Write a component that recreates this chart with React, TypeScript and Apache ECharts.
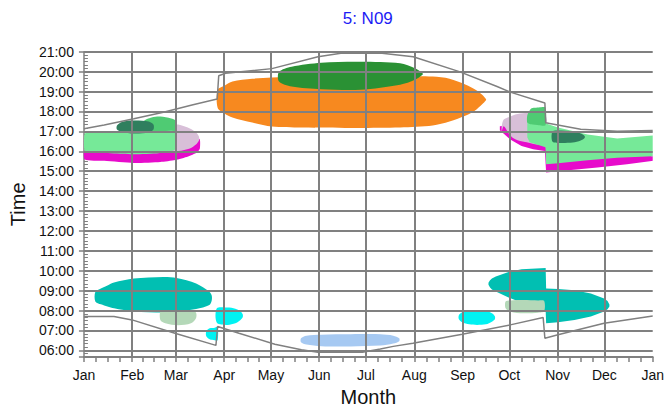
import React, { useEffect, useRef } from 'react';
import * as echarts from 'echarts';

// ---------- axes ----------
const monthLabels = ['Jan', 'Feb', 'Mar', 'Apr', 'May', 'Jun', 'Jul', 'Aug', 'Sep', 'Oct', 'Nov', 'Dec', 'Jan'];
const monthStarts = [0, 31, 59, 90, 120, 151, 181, 212, 243, 273, 304, 334, 365];
const hourTicks = [6, 7, 8, 9, 10, 11, 12, 13, 14, 15, 16, 17, 18, 19, 20, 21];
const titleText = '5: N09';

// ---------- sunset / sunrise lines (day of year, hour) ----------
const sunsetDays = [0, 13, 32, 51, 70, 85.5, 86.5, 90.9, 120.6, 150.2, 164.9, 191.3, 211.3, 240.9, 265.1, 273.6, 295.8, 296.3, 318.8, 342.2, 365];
const sunsetHours = [17.13, 17.32, 17.63, 17.96, 18.34, 18.62, 19.79, 19.92, 20.15, 20.75, 20.92, 20.92, 20.75, 20.0, 19.25, 18.97, 18.42, 17.43, 17.1, 17.0, 17.04];
const sunriseDays = [0, 19.3, 30.9, 58.4, 84.7, 85.8, 99.5, 122.5, 139.6, 150.2, 178.7, 190.2, 198.5, 211.1, 242.8, 273.6, 294.7, 295.8, 304.2, 333.8, 362.9, 365];
const sunriseHours = [7.7, 7.7, 7.53, 6.86, 6.25, 7.2, 6.86, 6.31, 6.03, 5.9, 5.9, 6.07, 6.2, 6.36, 6.81, 7.28, 7.65, 6.61, 6.78, 7.36, 7.7, 7.72];

// ---------- glare areas: day, upper hour, lower hour ----------
// summer evening
const orangeDays = [85.8, 90.2, 95.3, 108, 120.6, 139.6, 171.3, 202.9, 223.8, 234.6, 245.1, 251, 255.4, 258];
const orangeTop = [19.09, 19.29, 19.5, 19.64, 19.7, 19.74, 19.74, 19.76, 19.75, 19.64, 19.34, 19.1, 18.85, 18.62];
const orangeBottom = [18.19, 17.89, 17.69, 17.44, 17.24, 17.19, 17.17, 17.19, 17.29, 17.49, 17.79, 18.05, 18.35, 18.56];
const forestDays = [125.2, 133.3, 152.3, 177.6, 202.9, 212.4, 217.3];
const forestTop = [19.99, 20.25, 20.45, 20.5, 20.42, 20.17, 19.92];
const forestBottom = [19.5, 19.25, 19.12, 19.09, 19.34, 19.59, 19.84];

// winter evening, left
const magentaLDays = [0.5, 13, 32, 49, 58.6, 66.8, 72.5, 74.4];
const magentaLTop = [16.09, 16.09, 16.09, 16.09, 16.2, 16.59, 16.69, 16.59];
const magentaLBottom = [15.59, 15.52, 15.41, 15.46, 15.56, 15.74, 15.94, 16.14];
const lilacLDays = [51, 56, 60.5, 68, 71.9, 73.8];
const lilacLTop = [17.2, 17.29, 17.34, 17.14, 16.94, 16.74];
const lilacLBottom = [16.1, 16.04, 16.01, 16.14, 16.34, 16.54];
const paleGreenLDays = [0.5, 6.6, 32, 47.8, 58.6];
const paleGreenLTop = [16.89, 16.94, 16.97, 17.04, 17.09];
const paleGreenLBottom = [15.97, 15.94, 15.85, 15.9, 16.09];
const midGreenLDays = [38.3, 43.4, 49, 56, 58.6];
const midGreenLTop = [17.49, 17.69, 17.74, 17.64, 17.54];
const midGreenLBottom = [16.99, 16.99, 16.99, 17.04, 17.04];
const darkGreenLDays = [21.2, 24.4, 32, 41.5, 44.6];
const darkGreenLTop = [17.29, 17.47, 17.54, 17.49, 17.34];
const darkGreenLBottom = [17.09, 16.97, 16.89, 16.94, 17.09];

// winter evening, right
const magentaRDays = [266.9, 273.6, 280.8, 288.3, 295.8, 296.6, 304.2, 329.5, 348.5, 364.3, 365];
const magentaRTop = [17.25, 17.3, 17.3, 17.2, 17.0, 16.0, 16.0, 16.0, 16.0, 15.75, 15.75];
const magentaRBottom = [17.05, 16.59, 16.26, 16.1, 16.01, 14.93, 15.0, 15.18, 15.35, 15.51, 15.52];
const lilacRDays = [268.1, 269.4, 273.6, 276.8, 283.1, 295.8];
const lilacRTop = [17.24, 17.59, 17.74, 17.84, 17.92, 17.9];
const lilacRBottom = [17.0, 17.26, 16.79, 16.6, 16.46, 16.38];
const paleGreenRDays = [284.5, 286, 296.2, 296.6, 304.2, 323.2, 342.2, 365];
const paleGreenRTop = [17.7, 18.0, 18.09, 17.39, 17.19, 16.84, 16.64, 16.79];
const paleGreenRBottom = [16.7, 16.45, 16.2, 15.35, 15.4, 15.55, 15.67, 15.75];
const midGreenRDays = [284.5, 287, 292, 296.2];
const midGreenRTop = [17.8, 18.15, 18.2, 18.2];
const midGreenRBottom = [17.45, 17.35, 17.3, 17.3];
const darkGreenRDays = [300.6, 304.2, 313.7, 318.8, 321.3];
const darkGreenRTop = [16.99, 17.04, 16.99, 16.89, 16.77];
const darkGreenRBottom = [16.49, 16.42, 16.44, 16.54, 16.67];

// mornings
const tealLDays = [7.3, 10.9, 15.1, 19.3, 32, 51, 59.4, 72, 80.5, 82];
const tealLTop = [8.93, 9.11, 9.26, 9.41, 9.61, 9.69, 9.64, 9.36, 8.94, 8.76];
const tealLBottom = [8.46, 8.31, 8.2, 8.11, 7.95, 7.9, 7.95, 8.08, 8.28, 8.51];
const sageLDays = [49.1, 52.2, 60.5, 68.7, 71.9];
const sageLTop = [7.96, 7.96, 7.96, 7.96, 7.9];
const sageLBottom = [7.51, 7.36, 7.26, 7.36, 7.61];
const cyanADays = [85.3, 92.1, 97.2, 100.3, 101.9];
const cyanATop = [8.11, 8.15, 8.09, 7.96, 7.81];
const cyanABottom = [7.39, 7.28, 7.36, 7.51, 7.66];
const cyanBDays = [78.5, 80.7, 83.9, 85.8];
const cyanBTop = [6.96, 7.11, 7.14, 7.19];
const cyanBBottom = [6.71, 6.56, 6.51, 6.51];
const blueDays = [139.3, 142.8, 152.3, 171.3, 190.3, 198.5, 202.3];
const blueTop = [6.61, 6.74, 6.79, 6.81, 6.81, 6.74, 6.61];
const blueBottom = [6.41, 6.29, 6.21, 6.2, 6.24, 6.34, 6.46];
const cyanRDays = [240.6, 242.8, 247.2, 252.3, 258, 261.8, 263.7];
const cyanRTop = [7.76, 7.91, 7.99, 8.01, 7.99, 7.86, 7.71];
const cyanRBottom = [7.56, 7.41, 7.31, 7.28, 7.31, 7.44, 7.56];
const tealRDays = [259.6, 260.6, 261.8, 264.3, 272.5, 280.8, 296.3, 296.6, 304.2, 314.8, 325.3, 333.8, 336, 337.2];
const tealRTop = [9.4, 9.52, 9.61, 9.71, 9.94, 10.07, 10.14, 9.11, 9.08, 9.02, 8.86, 8.61, 8.48, 8.3];
const tealRBottom = [9.3, 9.16, 9.06, 8.96, 8.66, 8.4, 8.0, 7.36, 7.41, 7.53, 7.7, 7.95, 8.06, 8.2];
const sageRDays = [270.6, 273.8, 282, 291.5, 295.3];
const sageRTop = [8.46, 8.51, 8.53, 8.51, 8.49];
const sageRBottom = [8.11, 7.94, 7.86, 7.89, 7.96];

const GRID = { left: 79.5, right: 11, top: 51.7, bottom: 53 };
const GRAY = '#808080';
const FONT = '"Liberation Sans", Arial, sans-serif';

function area(color: string, days: number[], tops: number[], bottoms: number[], smooth: number) {
  return {
    type: 'custom',
    silent: true,
    clip: true,
    z: 2,
    data: days.map((d, i) => [d, tops[i], bottoms[i]]),
    encode: { x: 0, y: [1, 2] },
    renderItem: (params: any, api: any) => {
      if (params.dataIndex !== 0) return null;
      const pts: number[][] = [];
      for (let i = 0; i < days.length; i++) pts.push(api.coord([days[i], tops[i]]));
      for (let i = days.length - 1; i >= 0; i--) pts.push(api.coord([days[i], bottoms[i]]));
      return { type: 'polygon', shape: { points: pts, smooth }, style: { fill: color, stroke: null } };
    },
  };
}

export default function App() {
  const ref = useRef<HTMLDivElement>(null);
  useEffect(() => {
    if (!ref.current) return;
    const chart = echarts.init(ref.current, null, { renderer: 'svg' });
    const minorX: number[] = [];
    for (let m = 0; m < 12; m++) {
      const a = monthStarts[m];
      const b = monthStarts[m + 1];
      for (let k = 0; k < 4; k++) minorX.push(a + ((b - a) * k) / 4);
    }
    minorX.push(365);
    const pad = (n: number) => (n < 10 ? '0' + n : '' + n);
    chart.setOption({
      animation: false,
      backgroundColor: '#ffffff',
      textStyle: { fontFamily: FONT },
      grid: GRID,
      graphic: [
        {
          type: 'text',
          x: 367.75,
          y: 18,
          style: { text: titleText, fill: '#1c1cf5', font: `17px ${FONT}`, textAlign: 'center', textVerticalAlign: 'middle' },
        },
      ],
      xAxis: {
        type: 'value',
        min: 0,
        max: 365,
        name: 'Month',
        nameLocation: 'middle',
        nameGap: 30,
        nameTextStyle: { fontSize: 20, color: '#111', fontFamily: FONT },
        axisLine: { show: true, onZero: false, lineStyle: { color: GRAY, width: 2 } },
        axisTick: { show: true, customValues: minorX, length: 5, lineStyle: { color: GRAY, width: 1.5 } },
        axisLabel: {
          customValues: monthStarts,
          margin: 11,
          fontSize: 14,
          color: '#111',
          fontFamily: FONT,
          formatter: (v: number) => {
            const i = monthStarts.indexOf(Math.round(v));
            return i >= 0 ? monthLabels[i] : '';
          },
        },
        splitLine: { show: false },
      },
      yAxis: [
        {
          type: 'value',
          min: 17 / 3,
          max: 21,
          minInterval: 1,
          maxInterval: 1,
          splitNumber: 15,
          name: 'Time',
          nameLocation: 'middle',
          nameGap: 50,
          nameTextStyle: { fontSize: 20, color: '#111', fontFamily: FONT },
          axisLine: { show: true, lineStyle: { color: GRAY, width: 1.5 } },
          axisTick: { show: true, length: 5, lineStyle: { color: GRAY, width: 1.5 } },
          axisLabel: {
            margin: 10,
            fontSize: 14,
            color: '#111',
            fontFamily: FONT,
            formatter: (v: number) => (Math.abs(v - Math.round(v)) < 1e-6 ? pad(Math.round(v)) + ':00' : ''),
          },
          splitLine: { show: false },
        },
        {
          type: 'value',
          min: 340,
          max: 1260,
          interval: 10,
          position: 'left',
          axisLine: { show: false },
          axisLabel: { show: false },
          splitLine: { show: false },
          axisTick: { show: true, inside: true, length: 4, lineStyle: { color: GRAY, width: 1 } },
        },
      ],
      series: [
        area('#F7891F', orangeDays, orangeTop, orangeBottom, 0.3),
        area('#2A9134', forestDays, forestTop, forestBottom, 0.3),
        area('#E70BCB', magentaLDays, magentaLTop, magentaLBottom, 0.2),
        area('#D8BFD8', lilacLDays, lilacLTop, lilacLBottom, 0.3),
        area('#76E998', paleGreenLDays, paleGreenLTop, paleGreenLBottom, 0.15),
        area('#4FCB73', midGreenLDays, midGreenLTop, midGreenLBottom, 0.3),
        area('#2F7F5E', darkGreenLDays, darkGreenLTop, darkGreenLBottom, 0.3),
        area('#E70BCB', magentaRDays, magentaRTop, magentaRBottom, 0),
        area('#D8BFD8', lilacRDays, lilacRTop, lilacRBottom, 0.3),
        area('#76E998', paleGreenRDays, paleGreenRTop, paleGreenRBottom, 0),
        area('#4FCB73', midGreenRDays, midGreenRTop, midGreenRBottom, 0.2),
        area('#2F7F5E', darkGreenRDays, darkGreenRTop, darkGreenRBottom, 0.3),
        area('#01BFB2', tealLDays, tealLTop, tealLBottom, 0.3),
        area('#B4D8B8', sageLDays, sageLTop, sageLBottom, 0.3),
        area('#00F2F2', cyanADays, cyanATop, cyanABottom, 0.3),
        area('#00F2F2', cyanBDays, cyanBTop, cyanBBottom, 0.3),
        area('#A6C9F2', blueDays, blueTop, blueBottom, 0.3),
        area('#00F2F2', cyanRDays, cyanRTop, cyanRBottom, 0.3),
        area('#01BFB2', tealRDays, tealRTop, tealRBottom, 0),
        area('#B4D8B8', sageRDays, sageRTop, sageRBottom, 0.3),
        {
          type: 'line',
          name: 'sunset',
          z: 4,
          silent: true,
          showSymbol: false,
          data: sunsetDays.map((d, i) => [d, sunsetHours[i]]),
          lineStyle: { color: GRAY, width: 1.5 },
          markLine: {
            silent: true,
            symbol: ['none', 'none'],
            label: { show: false },
            lineStyle: { color: GRAY, width: 2, type: 'solid' },
            data: [
              ...monthStarts.slice(1, -1).map((d) => ({ xAxis: d })),
              ...hourTicks.map((h) => ({ yAxis: h })),
            ],
          },
        },
        {
          type: 'line',
          name: 'sunrise',
          z: 4,
          silent: true,
          showSymbol: false,
          data: sunriseDays.map((d, i) => [d, sunriseHours[i]]),
          lineStyle: { color: GRAY, width: 1.5 },
        },
      ],
    });
    return () => chart.dispose();
  }, []);
  return <div ref={ref} style={{ width: 667, height: 412, position: 'fixed', left: 0, top: 0 }} />;
}
